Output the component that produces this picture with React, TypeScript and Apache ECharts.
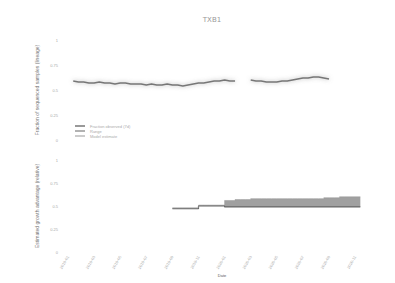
import React, { useEffect, useRef } from "react";
import * as echarts from "echarts";

const title = "TXB1";
const tickLabels = ["2019-01", "2019-03", "2019-05", "2019-07", "2019-09", "2019-11", "2020-01", "2020-03", "2020-05", "2020-07", "2020-09", "2020-11"];
const categories: string[] = Array.from({ length: 60 }, (_, i) => String(i));

// top panel: fraction (null = missing)
const topValues: (number | null)[] = [
  null, 0.59, 0.58, 0.58, 0.57, 0.57, 0.58, 0.57, 0.57, 0.56, 0.57,
  0.57, 0.56, 0.56, 0.56, 0.55, 0.56, 0.55, 0.55, 0.56, 0.55,
  0.55, 0.54, 0.55, 0.56, 0.57, 0.57, 0.58, 0.59, 0.59, 0.60,
  0.59, 0.59, null, null, 0.60, 0.59, 0.59, 0.58, 0.58, 0.58,
  0.59, 0.59, 0.60, 0.61, 0.62, 0.62, 0.63, 0.63, 0.62, 0.61,
  null, null, null, null, null, null, null, null, null,
];

// bottom panel: band lower bound and band width
const bandLow: (number | null)[] = [
  null, null, null, null, null, null, null, null, null, null,
  null, null, null, null, null, null, null, null, null, null,
  0.47, 0.47, 0.47, 0.47, 0.47, 0.50, 0.50, 0.50, 0.50, 0.50,
  0.49, 0.49, 0.49, 0.49, 0.49, 0.49, 0.49, 0.49, 0.49, 0.49,
  0.49, 0.49, 0.49, 0.49, 0.49, 0.49, 0.49, 0.49, 0.49, 0.49,
  0.49, 0.49, 0.49, 0.49, 0.49, 0.49, null, null, null, null,
];
const bandWidth: (number | null)[] = [
  null, null, null, null, null, null, null, null, null, null,
  null, null, null, null, null, null, null, null, null, null,
  0.01, 0.01, 0.01, 0.01, 0.01, 0.01, 0.01, 0.01, 0.01, 0.01,
  0.07, 0.07, 0.08, 0.08, 0.08, 0.09, 0.09, 0.09, 0.09, 0.09,
  0.09, 0.09, 0.09, 0.09, 0.09, 0.09, 0.09, 0.09, 0.09, 0.10,
  0.10, 0.10, 0.11, 0.11, 0.11, 0.11, null, null, null, null,
];

const seriesNames = ["Fraction observed (7d)", "Range", "Model estimate"];

export default function App() {
  const ref = useRef<HTMLDivElement>(null);
  useEffect(() => {
    const chart = echarts.init(ref.current!, null, { renderer: "svg" });
    const txt = "#aaaaaa";
    const xAxisBase = {
      type: "category" as const,
      data: categories,
      boundaryGap: false,
      axisLine: { show: false },
      axisTick: { show: false },
      splitLine: { show: false },
    };
    const yBase = {
      type: "value" as const,
      min: 0,
      max: 1,
      interval: 0.25,
      axisLine: { show: false },
      axisTick: { show: false },
      splitLine: { show: false },
      axisLabel: { fontSize: 4, color: txt, margin: 10 },
      nameLocation: "middle" as const,
      nameRotate: 90,
      nameGap: 25,
      nameTextStyle: { fontSize: 5, color: "#777" },
    };
    chart.setOption({
      animation: false,
      backgroundColor: "#ffffff",
      title: {
        text: title,
        left: 207,
        top: 11,
        textAlign: "center",
        textStyle: { fontSize: 7, color: "#999", fontWeight: "normal", fontFamily: "DejaVu Sans" },
      },
      legend: {
        left: 70,
        top: 119,
        orient: "vertical",
        itemGap: 1,
        itemWidth: 10,
        itemHeight: 1.5,
        icon: "rect",
        textStyle: { fontSize: 4, color: txt },
        data: [seriesNames[0], seriesNames[1], seriesNames[2]],
      },
      grid: [
        { left: 68, right: 19, top: 40, height: 100 },
        { left: 68, right: 19, top: 160, height: 92 },
      ],
      xAxis: [
        { ...xAxisBase, gridIndex: 0, axisLabel: { show: false } },
        {
          ...xAxisBase,
          gridIndex: 1,
          name: "Date",
          nameLocation: "middle",
          nameGap: 21,
          nameTextStyle: { fontSize: 4, color: "#555" },
          axisLabel: {
            fontSize: 4,
            color: txt,
            rotate: 60,
            margin: 4,
            interval: (i: number) => i % 5 === 0,
            formatter: (v: string) => tickLabels[Number(v) / 5] ?? "",
          },
        },
      ],
      yAxis: [
        { ...yBase, gridIndex: 0, name: "Fraction of sequenced samples (lineage)" },
        { ...yBase, gridIndex: 1, name: "Estimated growth advantage (relative)" },
      ],
      series: [
        {
          name: seriesNames[0],
          type: "line",
          xAxisIndex: 0,
          yAxisIndex: 0,
          data: topValues,
          showSymbol: false,
          connectNulls: false,
          lineStyle: { color: "#777", width: 1.6, shadowBlur: 4, shadowColor: "rgba(120,120,120,0.6)" },
          itemStyle: { color: "#777" },
        },
        {
          name: "base",
          type: "line",
          xAxisIndex: 1,
          yAxisIndex: 1,
          stack: "band",
          data: bandLow,
          showSymbol: false,
          step: "end",
          lineStyle: { color: "#666", width: 1.2 },
          itemStyle: { color: "#666" },
        },
        {
          name: seriesNames[1],
          type: "line",
          xAxisIndex: 1,
          yAxisIndex: 1,
          stack: "band",
          data: bandWidth,
          showSymbol: false,
          step: "end",
          lineStyle: { color: "#999", width: 0.5 },
          areaStyle: { color: "#888", opacity: 0.8 },
          itemStyle: { color: "#999" },
        },
        {
          name: seriesNames[2],
          type: "line",
          xAxisIndex: 0,
          yAxisIndex: 0,
          data: [],
          lineStyle: { color: "#bbb", width: 1 },
          itemStyle: { color: "#bbb" },
        },
      ],
    });
    return () => chart.dispose();
  }, []);
  return <div ref={ref} style={{ width: 395, height: 283, marginLeft: -8, marginTop: -8 }} />;
}
